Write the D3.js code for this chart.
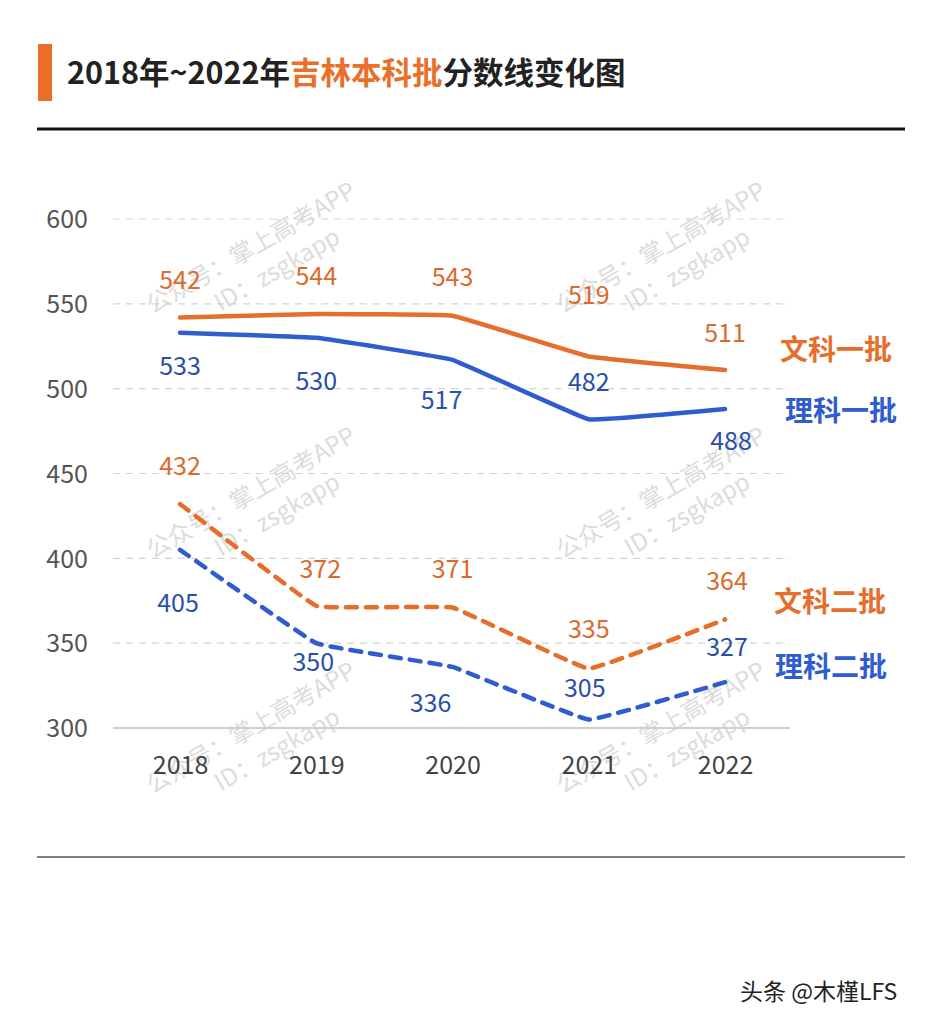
<!DOCTYPE html>
<html><head><meta charset="utf-8">
<script src="https://cdn.jsdelivr.net/npm/d3@7"></script>
<style>
html,body{margin:0;padding:0;background:#fff;}
svg{display:block;}
</style></head>
<body>
<svg id="c" width="939" height="1024"></svg>
<script>
const years = ["2018","2019","2020","2021","2022"];
const yTicks = [300,350,400,450,500,550,600];
const wenke1 = [542,544,543,519,511];
const like1 = [533,530,517,482,488];
const wenke2 = [432,372,371,335,364];
const like2 = [405,350,336,305,327];
const seriesNames = ["文科一批","理科一批","文科二批","理科二批"];
const titleParts = ["2018年~2022年","吉林本科批","分数线变化图"];
const watermark = ["公众号：掌上高考APP","ID：zsgkapp"];
const footer = "头条 @木槿LFS";

// label placement (px offsets from point, styling only)
const labelDy = [[-37,-38,-38,-61,-37],[34,43,40,-37,32],[-38,-37,-38,-39,-38],[53,19,36,-31,-35]];
const labelDx = [[0,0,0,0,0],[0,0,-11,0,6],[0,4,0,0,2],[-2,-3,-22,-4,2]];

const ORANGE = "#E56E2A", BLUE = "#2F5CCF";
const LBL_OR = "#DB6A2C", LBL_BL = "#2A4FAA";
const font = "'Noto Sans CJK SC','Noto Sans',sans-serif";

const svg = d3.select("#c");
svg.append("rect").attr("width",939).attr("height",1024).attr("fill","#fff");

// title
svg.append("rect").attr("x",38).attr("y",44).attr("width",14).attr("height",57).attr("fill","#E8702A");
const t = svg.append("text").attr("x",67).attr("y",84).attr("font-family",font).attr("font-size",30.5).attr("font-weight","bold").attr("fill","#222");
t.append("tspan").text(titleParts[0]);
t.append("tspan").attr("fill","#E8702A").text(titleParts[1]);
t.append("tspan").text(titleParts[2]);
svg.append("line").attr("x1",37).attr("x2",905).attr("y1",129).attr("y2",129).attr("stroke","#111").attr("stroke-width",3);
svg.append("line").attr("x1",37).attr("x2",905).attr("y1",857).attr("y2",857).attr("stroke","#555").attr("stroke-width",1.5);

// scales
const x = d3.scalePoint().domain(years).range([180,725]);
const y = d3.scaleLinear().domain([300,600]).range([728,219]);

// watermarks
const wmPos = [[255,255],[665,255],[255,500],[665,500],[255,735],[665,735]];
wmPos.forEach(p=>{
  const g = svg.append("g").attr("transform",`translate(${p[0]},${p[1]}) rotate(-30)`);
  g.append("text").attr("x",0).attr("y",0).attr("text-anchor","middle").attr("font-family",font).attr("font-size",24).attr("fill","#dcdcdc").text(watermark[0]);
  g.append("text").attr("x",12).attr("y",32).attr("text-anchor","middle").attr("font-family",font).attr("font-size",24).attr("fill","#dcdcdc").text(watermark[1]);
});

// grid
const grid = svg.append("g");
yTicks.forEach(v=>{
  grid.append("line").attr("x1",113).attr("x2",790).attr("y1",y(v)).attr("y2",y(v))
    .attr("stroke", v===300 ? "#cfcfcf" : "#d4d4d4")
    .attr("stroke-width", v===300 ? 2 : 1.2)
    .attr("stroke-dasharray", v===300 ? null : "7,6");
});

// axes
const yAxis = d3.axisLeft(y).tickValues(yTicks).tickSize(0).tickPadding(0);
const ya = svg.append("g").attr("transform","translate(88,0)").call(yAxis);
ya.select(".domain").remove();
ya.selectAll("text").attr("font-family",font).attr("font-size",25).attr("fill","#555").attr("dy","0.35em");

const xAxis = d3.axisBottom(x).tickSize(0).tickPadding(0);
const xa = svg.append("g").attr("transform","translate(0,765)").call(xAxis);
xa.select(".domain").remove();
xa.selectAll("text").attr("font-family",font).attr("font-size",25).attr("fill","#444").attr("dy","0.35em");

// lines
const data = [wenke1, like1, wenke2, like2];
const colors = [ORANGE, BLUE, ORANGE, BLUE];
const lblColors = [LBL_OR, LBL_BL, LBL_OR, LBL_BL];
const dashed = [false,false,true,true];
const line = d3.line().x((d,i)=>x(years[i])).y(d=>y(d)).curve(d3.curveCardinal.tension(0.8));
data.forEach((s,k)=>{
  svg.append("path").attr("d",line(s)).attr("fill","none").attr("stroke",colors[k])
    .attr("stroke-width",4.5).attr("stroke-linecap","round").attr("stroke-linejoin","round")
    .attr("stroke-dasharray", dashed[k] ? "11,9" : null);
});
data.forEach((s,k)=>{
  svg.append("g").selectAll("text").data(s).join("text")
    .attr("x",(d,i)=>x(years[i])+labelDx[k][i])
    .attr("y",(d,i)=>y(d)+labelDy[k][i])
    .attr("dy","0.35em").attr("text-anchor","middle")
    .attr("font-family",font).attr("font-size",25).attr("fill",lblColors[k])
    .text(d=>d);
});

// series name labels
const nameX = [836,841,830,831];
const nameY = [350,411,602,667];
seriesNames.forEach((n,k)=>{
  svg.append("text").attr("x",nameX[k]).attr("y",nameY[k]).attr("dy","0.35em").attr("text-anchor","middle")
    .attr("font-family",font).attr("font-size",28).attr("font-weight","bold").attr("fill",colors[k]).text(n);
});

// footer
svg.append("text").attr("x",740).attr("y",1000).attr("font-family",font).attr("font-size",23).attr("fill","#222").text(footer);
</script>
</body></html>
